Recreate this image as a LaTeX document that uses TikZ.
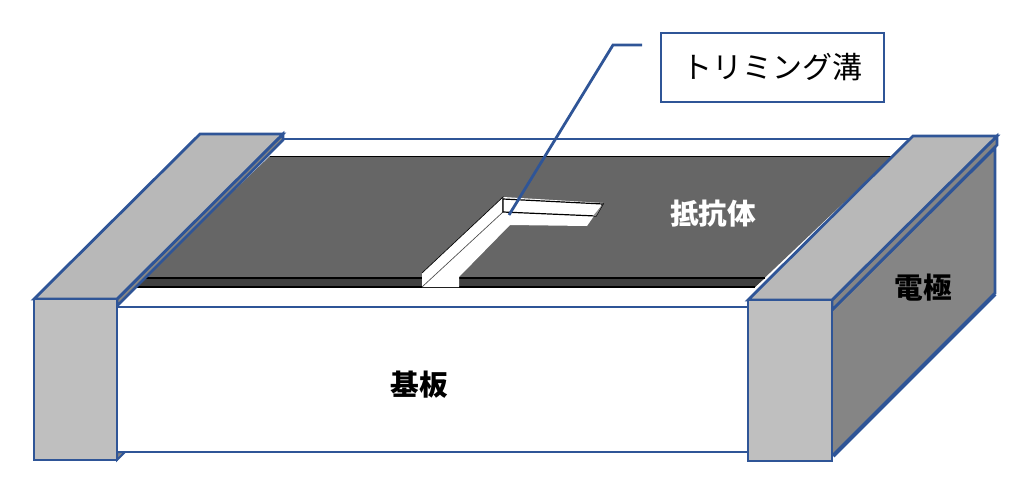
\documentclass[tikz,border=0pt]{standalone}
\usepackage{fontspec}
\setmainfont{Noto Sans CJK JP}
\usepackage{tikz}
\usetikzlibrary{positioning}
\definecolor{edgeblue}{HTML}{2F5597}

\begin{document}
\begin{tikzpicture}[
                x=0.75pt,y=-0.75pt,
                edge/.style={draw=edgeblue,line width=2.2pt,line join=miter},
                thinedge/.style={draw=edgeblue,line width=2.1pt},
                electrodetop/.style={edge,fill=black!28},
                electrodefront/.style={edge,fill=black!25},
                electrodeside/.style={edge,fill=black!48},
                label/.style={font=\fontsize{21.5pt}{24pt}\selectfont\bfseries,inner sep=0pt},
                trench/.style={draw=black,line width=0.5pt}
            ]
                \useasboundingbox (0,0) rectangle (1024,492);
                % substrate
                \draw[thinedge,fill=white] (117,307) -- (748,307) -- (748,452) -- (117,452) -- cycle;
                \draw[thinedge] (283,139) -- (913,139);
                % resistor film
                \fill[black!60] (270,156) -- (893,156) -- (755,287) -- (133,287) -- cycle;
                \fill[black!75] (142,278) -- (765,278) -- (755,287) -- (133,287) -- cycle;
                \draw[black,line width=0.6pt] (270,156) -- (893,156);
                \draw[black,line width=0.8pt] (142,278) -- (765,278);
                \draw[black,line width=0.8pt] (133,287) -- (755,287);
                % trimming groove
                \fill[white] (422,287) -- (422,273) -- (503,197) -- (603,203) -- (587,226) -- (510,225) -- (459,277) -- (459,287) -- cycle;
                \draw[trench] (422,273) -- (503,197) -- (503,212);
                \draw[trench,black!70] (422,287) -- (503,212);
                \draw[black,line width=0.9pt,fill=white] (503,199) -- (603,204) -- (596,216) -- (503,212) -- cycle;
                \fill[black!45] (603,204) -- (596,216) -- (593,216) -- cycle;
                % left electrode
                \draw[electrodeside,line width=1.5pt] (117,460) -- (125,452) -- (117,452) -- cycle;
                \draw[electrodeside,line width=1.9pt] (117,299) -- (283,134) -- (283,140) -- (117,306) -- cycle;
                \draw[electrodetop,line width=2.1pt] (34,299) -- (117,299) -- (283,134) -- (200,134) -- cycle;
                \draw[electrodefront] (34,299) rectangle (117,460);
                % right electrode
                \fill[black!48] (833,310) -- (995,148) -- (995,294) -- (833,456) -- cycle;
                \draw[edge,line width=2pt] (832,310) -- (995,148) -- (995,294);
                \draw[edge,line width=3pt] (995,294) -- (833,456);
                \draw[electrodeside,line width=1.9pt] (832,300) -- (997,136) -- (997,145) -- (832,310) -- cycle;
                \draw[electrodetop,line width=2.1pt] (748,300) -- (832,300) -- (997,136) -- (913,136) -- cycle;
                \draw[electrodefront] (748,300) rectangle (832,461);
                % labels
                \node[draw=edgeblue,line width=2.1pt,minimum width=167.25pt,minimum height=51.75pt,inner sep=0pt,font=\fontsize{22.5pt}{24pt}\selectfont] (groovebox) at (772.5,67.5) {トリミング溝};
                \node[label,text=white] (filmlabel) at (713,214) {抵抗体};
                \node[label] (substratelabel) at (419,385) {基板};
                \node[label] (electrodelabel) at (923,288) {電極};
                % leader
                \coordinate (leadertip) at (509,215);
                \coordinate (leaderbend) at (613,45);
                \coordinate (leaderend) at (642,45);
                \draw[edgeblue,line width=2.1pt] (leadertip) -- (leaderbend) -- (leaderend);
            \end{tikzpicture}
\end{document}
